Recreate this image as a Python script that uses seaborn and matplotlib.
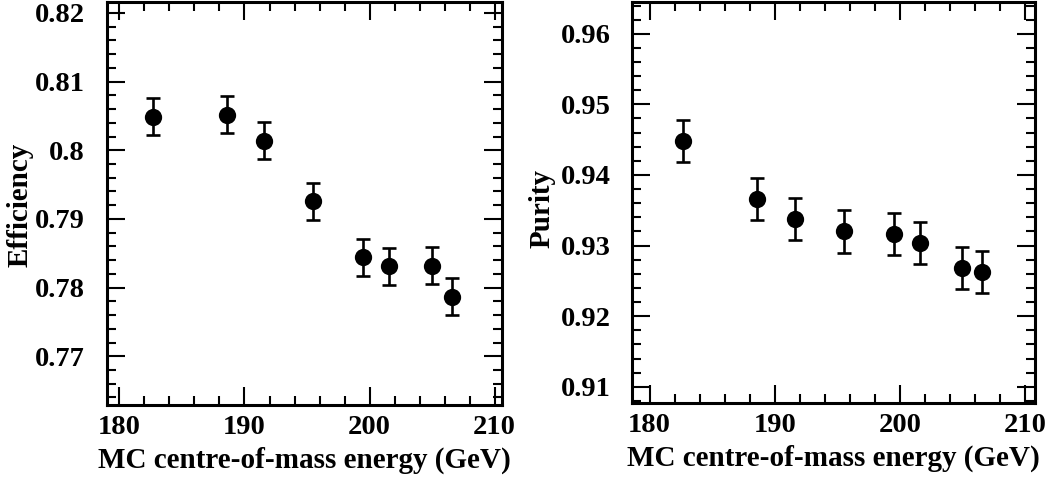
import numpy as np
import pandas as pd
import matplotlib
matplotlib.use("Agg")
import matplotlib.pyplot as plt
import seaborn as sns
from matplotlib.ticker import MultipleLocator

# Monte Carlo centre-of-mass energies (GeV)
energy = [182.7, 188.6, 191.6, 195.5, 199.5, 201.6, 205.0, 206.6]

# Selection efficiency and its uncertainty
efficiency = [0.8049, 0.8052, 0.8014, 0.7926, 0.7844, 0.7831, 0.7832, 0.7787]
efficiency_err = [0.0027, 0.0027, 0.0027, 0.0027, 0.0027, 0.0027, 0.0027, 0.0027]

# Selection purity and its uncertainty
purity = [0.9448, 0.9366, 0.9338, 0.9320, 0.9316, 0.9304, 0.9268, 0.9263]
purity_err = [0.0030, 0.0030, 0.0030, 0.0030, 0.0030, 0.0030, 0.0030, 0.0030]

eff_ticks = [0.77, 0.78, 0.79, 0.80, 0.81, 0.82]
eff_ticklabels = ["0.77", "0.78", "0.79", "0.8", "0.81", "0.82"]
pur_ticks = [0.91, 0.92, 0.93, 0.94, 0.95, 0.96]
pur_ticklabels = ["0.91", "0.92", "0.93", "0.94", "0.95", "0.96"]
x_ticks = [180, 190, 200, 210]

sns.set_style("ticks")
plt.rcParams["font.family"] = ["Liberation Serif", "DejaVu Serif"]
plt.rcParams["font.weight"] = "bold"
plt.rcParams["text.color"] = "black"
plt.rcParams["axes.labelcolor"] = "black"
plt.rcParams["xtick.color"] = "black"
plt.rcParams["ytick.color"] = "black"

df = pd.DataFrame({"energy": energy, "efficiency": efficiency, "eff_err": efficiency_err,
                   "purity": purity, "pur_err": purity_err})

fig = plt.figure(figsize=(10.6, 4.8), dpi=100)
W, H = 1060, 480
ax1 = fig.add_axes([107 / W, 1 - 405 / H, 395 / W, 403 / H])
ax2 = fig.add_axes([632 / W, 1 - 403 / H, 403 / W, 401 / H])

TICK_FS = 20.5
LABEL_FS = 21


def style_axis(ax, yticks, yticklabels, xlim, ylim, ylabel, label_xy, ypad):
    ax.set_xlim(*xlim)
    ax.set_ylim(*ylim)
    ax.set_xticks(x_ticks)
    ax.set_xticklabels([str(t) for t in x_ticks], fontsize=TICK_FS, fontweight="bold")
    ax.set_yticks(yticks)
    ax.set_yticklabels(yticklabels, fontsize=TICK_FS, fontweight="bold")
    ax.xaxis.set_minor_locator(MultipleLocator(2))
    ax.yaxis.set_minor_locator(MultipleLocator(0.002))
    ax.tick_params(which="major", direction="in", length=13, width=1.5,
                   top=True, right=True, color="black")
    ax.tick_params(which="minor", direction="in", length=6.5, width=1.5,
                   top=True, right=True, color="black")
    ax.tick_params(axis="y", which="major", pad=ypad)
    ax.tick_params(axis="x", which="major", pad=7)
    for s in ax.spines.values():
        s.set_linewidth(2.2)
        s.set_color("black")
    ax.set_xlabel("MC centre-of-mass energy (GeV)", fontsize=LABEL_FS,
                  fontweight="bold", labelpad=5)
    ax.set_ylabel(ylabel, fontsize=LABEL_FS, fontweight="bold")
    ax.yaxis.set_label_coords(*label_xy)


# Efficiency panel
ax1.errorbar(df["energy"], df["efficiency"], yerr=df["eff_err"], fmt="none",
             ecolor="black", elinewidth=1.9, capsize=5, capthick=1.9, zorder=2)
sns.scatterplot(data=df, x="energy", y="efficiency", ax=ax1, color="black",
                s=155, edgecolor="black", linewidth=0, zorder=3, legend=False)
style_axis(ax1, eff_ticks, eff_ticklabels, (179.0, 210.6), (0.7629, 0.8216),
           "Efficiency", (-0.187, 0.496), 16)

# Purity panel
ax2.errorbar(df["energy"], df["purity"], yerr=df["pur_err"], fmt="none",
             ecolor="black", elinewidth=1.9, capsize=5, capthick=1.9, zorder=2)
sns.scatterplot(data=df, x="energy", y="purity", ax=ax2, color="black",
                s=155, edgecolor="black", linewidth=0, zorder=3, legend=False)
style_axis(ax2, pur_ticks, pur_ticklabels, (178.6, 210.8), (0.9077, 0.9645),
           "Purity", (-0.19, 0.486), 15)

fig.savefig("out.png", dpi=100, facecolor="white")
